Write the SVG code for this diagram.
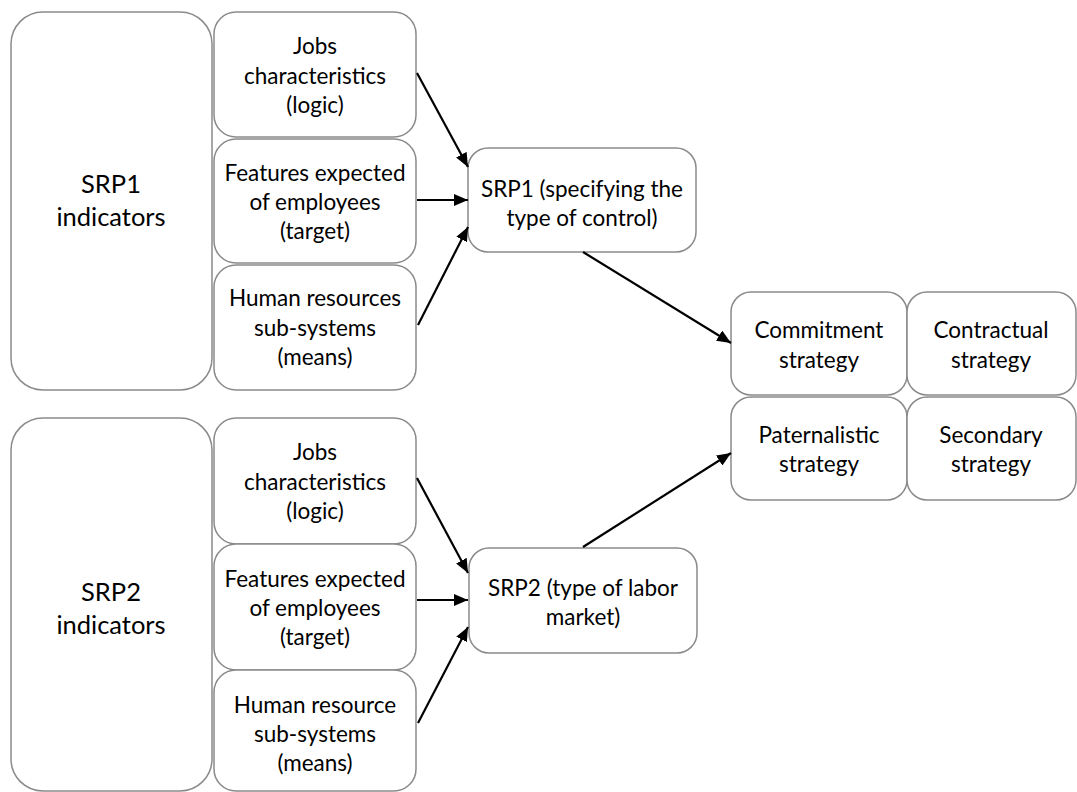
<svg xmlns="http://www.w3.org/2000/svg" width="1077" height="792" viewBox="0 0 1077 792">
<style>
.box{fill:#fff;stroke:#8a8a8a;stroke-width:1.5}
.t{font-family:Lato,"Open Sans",sans-serif;font-size:22.5px;fill:#000;text-anchor:middle}
.big{font-size:25.5px}
.c{stroke:#000;stroke-width:2.2;fill:none;marker-end:url(#ah)}
</style>
<defs>
<marker id="ah" viewBox="0 0 14 12" refX="14" refY="6" markerWidth="14" markerHeight="12" markerUnits="userSpaceOnUse" orient="auto">
<path d="M0,0 L14,6 L0,12 z" fill="#000"/>
</marker>
</defs>
<g id="srp1-ind"><rect class="box" x="11" y="12" width="201" height="378" rx="32"/>
<text class="t big" x="111" y="193">SRP1</text><text class="t big" x="111" y="226">indicators</text></g>
<g id="jobs1"><rect class="box" x="214" y="12" width="202" height="125" rx="22"/>
<text class="t" x="315" y="54">Jobs</text><text class="t" x="315" y="84">characteristics</text><text class="t" x="315" y="113">(logic)</text></g>
<g id="feat1"><rect class="box" x="214" y="139" width="202" height="124" rx="22"/>
<text class="t" x="315" y="181">Features expected</text><text class="t" x="315" y="210">of employees</text><text class="t" x="315" y="239">(target)</text></g>
<g id="hr1"><rect class="box" x="214" y="265" width="202" height="125" rx="22"/>
<text class="t" x="315" y="306">Human resources</text><text class="t" x="315" y="336">sub-systems</text><text class="t" x="315" y="365">(means)</text></g>
<g id="srp1"><rect class="box" x="468" y="148" width="228" height="104" rx="20"/>
<text class="t" x="582" y="197">SRP1 (specifying the</text><text class="t" x="582" y="226">type of control)</text></g>
<g id="commit"><rect class="box" x="731" y="292" width="176" height="103" rx="20"/>
<text class="t" x="819" y="338">Commitment</text><text class="t" x="819" y="368">strategy</text></g>
<g id="contract"><rect class="box" x="907" y="292" width="169" height="103" rx="20"/>
<text class="t" x="991" y="338">Contractual</text><text class="t" x="991" y="368">strategy</text></g>
<g id="patern"><rect class="box" x="731" y="397" width="176" height="103" rx="20"/>
<text class="t" x="819" y="443">Paternalistic</text><text class="t" x="819" y="472">strategy</text></g>
<g id="second"><rect class="box" x="907" y="397" width="169" height="103" rx="20"/>
<text class="t" x="991" y="443">Secondary</text><text class="t" x="991" y="472">strategy</text></g>
<g id="srp2-ind"><rect class="box" x="11" y="418" width="201" height="373" rx="32"/>
<text class="t big" x="111" y="601">SRP2</text><text class="t big" x="111" y="634">indicators</text></g>
<g id="jobs2"><rect class="box" x="214" y="418" width="202" height="126" rx="22"/>
<text class="t" x="315" y="460">Jobs</text><text class="t" x="315" y="490">characteristics</text><text class="t" x="315" y="519">(logic)</text></g>
<g id="feat2"><rect class="box" x="214" y="544" width="202" height="126" rx="22"/>
<text class="t" x="315" y="587">Features expected</text><text class="t" x="315" y="616">of employees</text><text class="t" x="315" y="645">(target)</text></g>
<g id="hr2"><rect class="box" x="214" y="670" width="202" height="121" rx="22"/>
<text class="t" x="315" y="713">Human resource</text><text class="t" x="315" y="742">sub-systems</text><text class="t" x="315" y="771">(means)</text></g>
<g id="srp2"><rect class="box" x="469" y="548" width="228" height="105" rx="20"/>
<text class="t" x="583" y="596">SRP2 (type of labor</text><text class="t" x="583" y="625">market)</text></g>
<g id="connectors">
<line class="c" x1="417" y1="73" x2="468" y2="167"/>
<line class="c" x1="417" y1="200" x2="468" y2="200"/>
<line class="c" x1="418" y1="325" x2="468" y2="227"/>
<line class="c" x1="583" y1="252" x2="731" y2="343"/>
<line class="c" x1="417" y1="478" x2="468" y2="573"/>
<line class="c" x1="417" y1="600" x2="468" y2="600"/>
<line class="c" x1="418" y1="723" x2="468" y2="627"/>
<line class="c" x1="583" y1="547" x2="731" y2="453"/>
</g>
</svg>
